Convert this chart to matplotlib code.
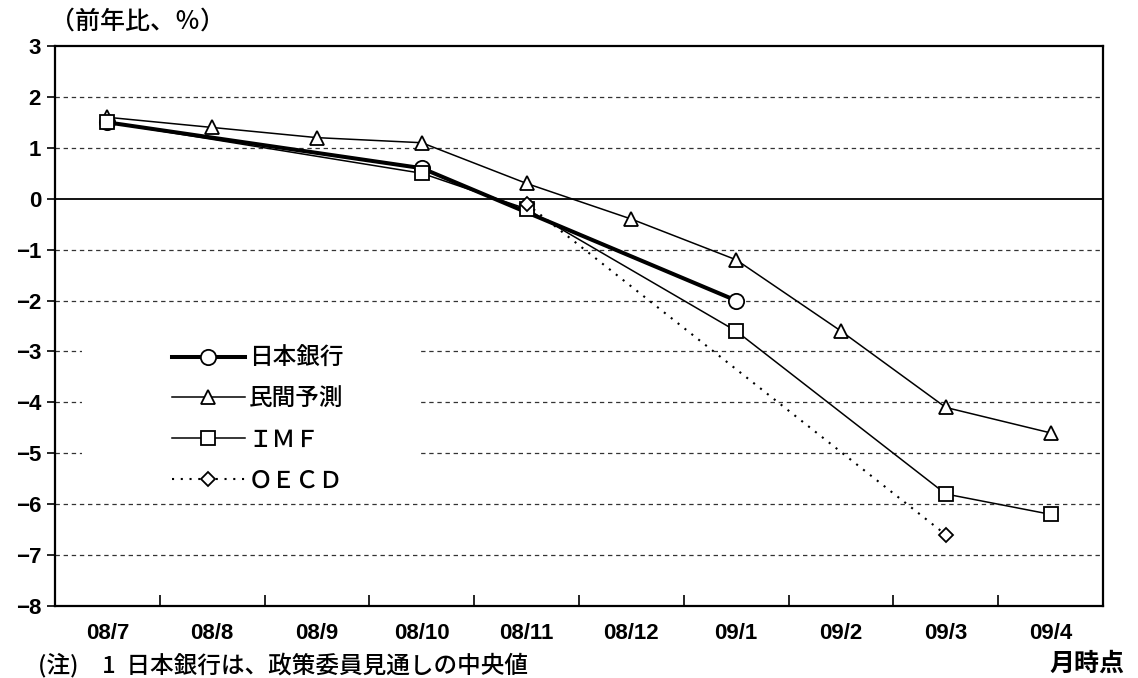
import matplotlib
matplotlib.use("Agg")
import matplotlib.pyplot as plt
from matplotlib.patches import Rectangle

# ---- data ----
months = ["08/7", "08/8", "08/9", "08/10", "08/11", "08/12", "09/1", "09/2", "09/3", "09/4"]
yticks = [3, 2, 1, 0, -1, -2, -3, -4, -5, -6, -7, -8]

boj_months = ["08/7", "08/10", "09/1"]
boj_vals = [1.5, 0.6, -2.0]

priv_months = months
priv_vals = [1.6, 1.4, 1.2, 1.1, 0.3, -0.4, -1.2, -2.6, -4.1, -4.6]

imf_months = ["08/7", "08/10", "08/11", "09/1", "09/3", "09/4"]
imf_vals = [1.5, 0.5, -0.2, -2.6, -5.8, -6.2]

oecd_months = ["08/11", "09/3"]
oecd_vals = [-0.1, -6.6]

labels = ["日本銀行", "民間予測", "ＩＭＦ", "ＯＥＣＤ"]

CJK = ["Noto Sans CJK JP", "DejaVu Sans"]
NUM = ["Liberation Sans", "DejaVu Sans"]

fig = plt.figure(figsize=(11.38, 6.78), dpi=100)
W, H = 1138, 678
ax = fig.add_axes([55 / W, 1 - 606 / H, (1103 - 55) / W, (606 - 46) / H])

xi = {m: i for i, m in enumerate(months)}

# grid lines
for v in yticks:
    if v in (3, -8):
        continue
    if v == 0:
        ax.axhline(v, color="black", lw=1.3, zorder=1)
    else:
        ax.axhline(v, color="#333333", lw=0.9, dashes=(3.5, 3), zorder=1)

# white box behind legend
ax.add_patch(Rectangle(((82 - 55) / 1048, (606 - 500) / 560), (420 - 82) / 1048, (500 - 325) / 560,
                       transform=ax.transAxes, facecolor="white", edgecolor="none", zorder=2))

mk = dict(markerfacecolor="white", markeredgecolor="black", markeredgewidth=1.3, color="black")
l1, = ax.plot([xi[m] for m in boj_months], boj_vals, lw=2.9, marker="o", markersize=11, zorder=4, **mk)
l2, = ax.plot([xi[m] for m in priv_months], priv_vals, lw=1.1, marker="^", markersize=10, zorder=5, **mk)
l3, = ax.plot([xi[m] for m in imf_months], imf_vals, lw=1.1, marker="s", markersize=10, zorder=6, **mk)
l4, = ax.plot([xi[m] for m in oecd_months], oecd_vals, lw=1.5, dashes=(1.0, 3.2), marker="D",
              markersize=7, zorder=7, **mk)

ax.set_xlim(-0.5, len(months) - 0.5)
ax.set_ylim(-8, 3)

ax.set_xticks(range(len(months)))
ax.set_xticklabels(months)
ax.set_xticks([i + 0.5 for i in range(len(months) - 1)], minor=True)
ax.tick_params(axis="x", which="major", length=0, pad=12)
ax.tick_params(axis="x", which="minor", direction="in", length=8, width=1.2)
ax.set_yticks(yticks)
ax.set_yticklabels([str(v).replace("-", "\u2212") for v in yticks])
ax.tick_params(axis="y", direction="out", length=6, width=1.2, pad=4)
for lab in ax.get_xticklabels() + ax.get_yticklabels():
    lab.set_fontfamily(NUM)
    lab.set_fontsize(16)
    lab.set_fontweight("bold")

for s in ax.spines.values():
    s.set_linewidth(1.6)

leg = ax.legend([l1, l2, l3, l4], labels, loc="upper left",
                bbox_to_anchor=((160 - 55) / 1048, (606 - 335) / 560),
                frameon=False, borderpad=0, handlelength=3.1, handletextpad=0.15,
                labelspacing=0.76, prop={"family": CJK, "size": 17, "weight": "medium"})
leg.set_zorder(10)

fig.text(50 / W, 1 - 22 / H, "（前年比、％）", family=CJK, fontsize=18, weight="medium", va="center", ha="left")
fig.text(1124 / W, 1 - 664 / H, "月時点", family=CJK, fontsize=18, fontweight="bold", va="center", ha="right")
fig.text(38 / W, 1 - 665 / H, "(注)　1  日本銀行は、政策委員見通しの中央値", family=CJK, fontsize=17,
         weight="medium", va="center", ha="left")

fig.savefig("out.png", dpi=100)
